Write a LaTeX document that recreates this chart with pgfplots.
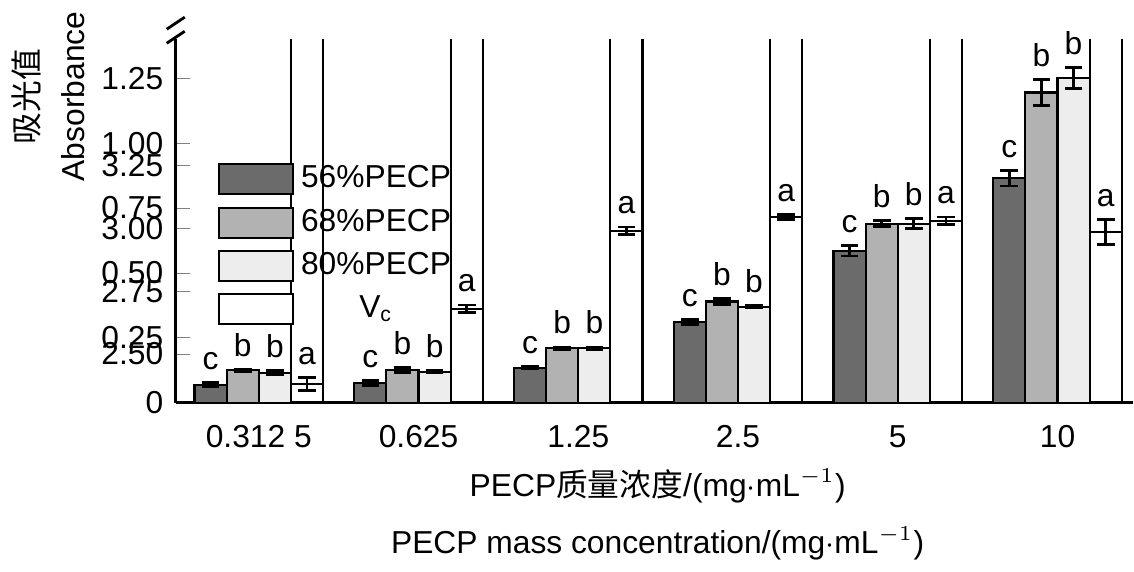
\documentclass[border=0pt]{standalone}
\usepackage{pgfplots}
\pgfplotsset{compat=1.18}
\usepackage{fontspec}
\setmainfont{Liberation Sans}
\newfontfamily\cjk{Noto Sans CJK SC}
\definecolor{c56}{HTML}{6B6B6B}
\definecolor{c68}{HTML}{B2B2B2}
\definecolor{c80}{HTML}{EDEDED}
\pgfplotsset{
 common/.style={
  width=9.53cm, scale only axis, xmin=-0.52, xmax=5.47,
  ybar=0pt, bar width=0.32cm,
  tick pos=left, tick align=inside, major tick length=4pt,
  /pgf/number format/assume math mode=true,
  tick label style={font=\fontsize{9}{11}\selectfont},
  error bars/y dir=both, error bars/y explicit,
  error bars/error mark options={rotate=90, mark size=2.5pt, line width=0.8pt},
  error bars/error bar style={line width=0.8pt},
  every axis plot/.append style={draw=black, line width=0.6pt},
  nodes near coords style={font=\fontsize{9}{11}\selectfont, anchor=south},
 },
 lab/.style={point meta=explicit symbolic, nodes near coords,
  visualization depends on={\thisrow{err}\as\err},
  nodes near coords style={yshift={\err*#1cm}}},
}
\pgfplotstableread{
x y err lab
0 0.070 0.008 c
1 0.075 0.010 c
2 0.135 0.004 c
3 0.310 0.010 c
4 0.585 0.020 c
5 0.865 0.030 c
}\tA
\pgfplotstableread{
x y err lab
0 0.125 0.004 b
1 0.125 0.010 b
2 0.210 0.005 b
3 0.390 0.010 b
4 0.690 0.012 b
5 1.195 0.050 b
}\tB
\pgfplotstableread{
x y err lab
0 0.115 0.008 b
1 0.120 0.005 b
2 0.210 0.005 b
3 0.370 0.005 b
4 0.690 0.020 b
5 1.250 0.040 b
}\tC
\pgfplotstableread{
x y err lab
0 2.380 0.025 a
1 2.680 0.015 a
2 2.990 0.015 a
3 3.045 0.010 a
4 3.030 0.015 a
5 2.985 0.050 a
}\tD
\begin{document}
\begin{tikzpicture}[x=1cm,y=1cm]
\begin{axis}[common, name=low, height=3.62cm, ymin=0, ymax=1.40,
  axis lines*=left, axis line style={line width=0.8pt},
  ytick={0,0.25,0.5,0.75,1,1.25},
  yticklabels={0,0.25,0.50,0.75,1.00,1.25},
  xtick={0,...,5}, xticklabels={0.312 5,0.625,1.25,2.5,5,10},
  x tick style={draw=none}, xticklabel style={yshift=-3pt}]
\addplot[fill=c56, bar shift=-0.48cm, lab=2.584] table[x=x,y=y,y error=err,meta=lab]{\tA};
\addplot[fill=c68, bar shift=-0.16cm, lab=2.584] table[x=x,y=y,y error=err,meta=lab]{\tB};
\addplot[fill=c80, bar shift=0.16cm, lab=2.584] table[x=x,y=y,y error=err,meta=lab]{\tC};
\addplot[fill=white, bar shift=0.48cm, error bars/y dir=none] table[x=x,y=y]{\tD};
\end{axis}
\begin{axis}[common, at={(0,3.77)}, anchor=south west,
  height=2.43cm, ymin=2.31, ymax=3.28,
  axis y line*=left, axis x line=none, axis line style={line width=0.8pt},
  ytick={2.5,2.75,3,3.25}, yticklabels={2.50,2.75,3.00,3.25},
  legend style={at={(0.043,1.0)}, anchor=north west, draw=none, fill=none,
    font=\fontsize{9}{11}\selectfont, row sep=0.5pt, inner sep=0pt},
  legend image code/.code={\draw[#1, line width=0.6pt] (0cm,-0.15cm) rectangle (0.74cm,0.15cm);},
  ]
\addlegendimage{fill=c56, draw=black}\addlegendentry{56\%PECP}
\addlegendimage{fill=c68, draw=black}\addlegendentry{68\%PECP}
\addlegendimage{fill=c80, draw=black}\addlegendentry{80\%PECP}
\addlegendimage{fill=white, draw=black}\addlegendentry{V$_{\mathrm{c}}$}
\addplot[fill=white, bar shift=0.48cm, lab=2.507] table[x=x,y=y,y error=err,meta=lab]{\tD};
\end{axis}
% axis break marks
\draw[line width=0.8pt] (-0.09,3.58) -- (0.09,3.70);
\draw[line width=0.8pt] (-0.09,3.72) -- (0.09,3.84);
\node[rotate=90, align=center, font=\fontsize{9}{11}\selectfont] at (-1.27,3.05) {{\cjk 吸光值}\\[2pt]Absorbance};
\node[font=\fontsize{9}{11}\selectfont] at (4.8,-0.83) {PECP{\cjk 质量浓度}/(mg$\cdot$mL$^{-1}$)};
\node[font=\fontsize{9}{11}\selectfont] at (4.8,-1.4) {PECP mass concentration/(mg$\cdot$mL$^{-1}$)};
\end{tikzpicture}
\end{document}
